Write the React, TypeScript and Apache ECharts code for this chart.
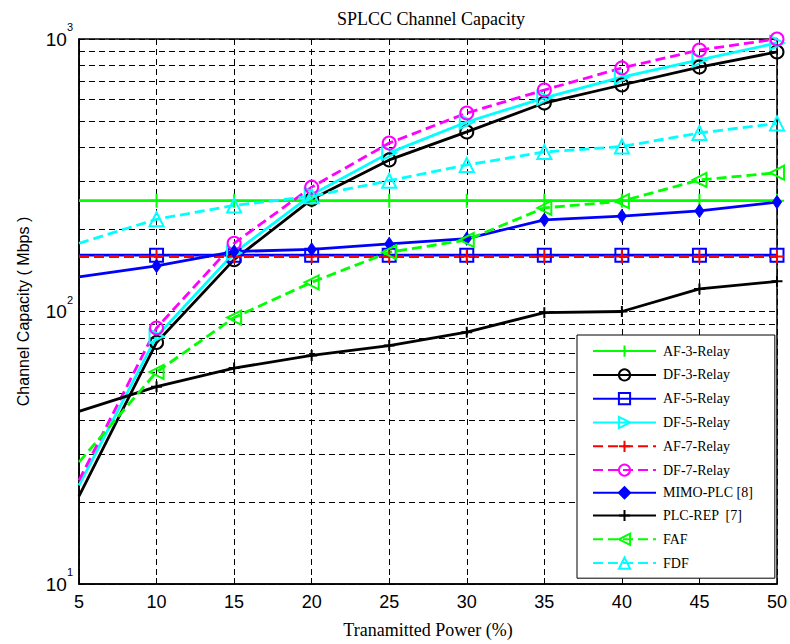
import React, { useEffect, useRef } from "react";
import * as echarts from "echarts";

const xValues = [5, 10, 15, 20, 25, 30, 35, 40, 45, 50];
const xTicks = ["5", "10", "15", "20", "25", "30", "35", "40", "45", "50"];
const af3Relay = [255, 255, 255, 255, 255, 255, 255, 255, 255, 255];
const df3Relay = [21, 77, 155, 258, 360, 456, 582, 678, 789, 896];
const af5Relay = [161, 161, 161, 161, 161, 161, 161, 161, 161, 161];
const df5Relay = [23, 81, 164, 268, 382, 496, 608, 725, 838, 967];
const af7Relay = [159, 159, 159, 159, 159, 159, 159, 159, 159, 159];
const df7Relay = [24, 87, 178, 286, 415, 535, 650, 783, 911, 1000];
const mimoPlc = [134, 147, 166, 169, 177, 185, 217, 224, 234, 252];
const plcRep = [43, 53, 62, 69, 75, 84, 99, 100, 121, 129];
const faf = [28, 60, 95, 128, 165, 183, 240, 254, 304, 323];
const fdf = [178, 218, 245, 265, 302, 345, 385, 403, 452, 490];
const minorGridValues = [20, 30, 40, 50, 60, 70, 80, 90, 200, 300, 400, 500, 600, 700, 800, 900];
const seriesNames = [
  "AF-3-Relay",
  "DF-3-Relay",
  "AF-5-Relay",
  "DF-5-Relay",
  "AF-7-Relay",
  "DF-7-Relay",
  "MIMO-PLC [8]",
  "PLC-REP  [7]",
  "FAF",
  "FDF",
];

const PLUS = "path://M0,5 L10,5 M5,0 L5,10";
const RIGHT_TRI = "path://M0,0 L10,5 L0,10 Z";
const LEFT_TRI = "path://M10,0 L0,5 L10,10 Z";
const UP_TRI = "path://M5,0 L10,10 L0,10 Z";

function mk(
  name: string,
  values: number[],
  color: string,
  dashed: boolean,
  symbol: string,
  symbolSize: number | number[],
  filled: boolean
) {
  return {
    name,
    type: "line",
    clip: false,
    symbol,
    symbolSize,
    showAllSymbol: true,
    data: values.map((v, i) =>
      i === 0 ? { value: [xValues[i], v], symbol: "none" } : [xValues[i], v]
    ),
    lineStyle: { color, width: 2.8, type: dashed ? [10, 5] : "solid" },
    itemStyle: filled
      ? { color, borderColor: color, borderWidth: 1 }
      : { color: "none", borderColor: color, borderWidth: 2 },
    emphasis: { disabled: true },
    z: 3,
  };
}

export default function App() {
  const ref = useRef<HTMLDivElement>(null);
  useEffect(() => {
    if (!ref.current) return;
    const chart = echarts.init(ref.current, null, { renderer: "svg" });
    const axisFont = "Liberation Sans";
    chart.setOption({
      animation: false,
      backgroundColor: "#fff",
      title: {
        text: "SPLCC Channel Capacity",
        left: 426,
        top: 5,
        textAlign: "center",
        textStyle: {
          fontFamily: "Liberation Serif",
          fontSize: 18,
          fontWeight: "normal",
          color: "#000",
        },
      },
      grid: {
        left: 79,
        top: 39,
        width: 698,
        height: 545,
        show: true,
        borderColor: "#000",
        borderWidth: 1.5,
        backgroundColor: "transparent",
      },
      legend: {
        orient: "vertical",
        left: 577,
        top: 335,
        z: 10,
        itemWidth: 63,
        itemHeight: 14,
        itemGap: 7.6,
        padding: [8, 22, 7, 15],
        backgroundColor: "#fff",
        borderColor: "#000",
        borderWidth: 1,
        data: seriesNames,
        textStyle: {
          fontFamily: "Liberation Serif",
          fontSize: 14,
          color: "#000",
          padding: [0, 0, 0, 2],
        },
      },
      xAxis: {
        type: "value",
        min: 5,
        max: 50,
        interval: 5,
        name: "Tranamitted Power (%)",
        nameLocation: "middle",
        nameGap: 37,
        nameTextStyle: { fontFamily: "Liberation Serif", fontSize: 18, color: "#000" },
        axisLine: { lineStyle: { color: "#000", width: 1.5 } },
        axisTick: { inside: true, length: 6, lineStyle: { color: "#000" } },
        axisLabel: {
          margin: 9,
          fontFamily: axisFont,
          fontSize: 18,
          color: "#000",
          formatter: (v: number) => xTicks[xValues.indexOf(v)] ?? String(v),
        },
        splitLine: { show: true, lineStyle: { color: "#000", type: [6, 4], width: 1 } },
      },
      yAxis: {
        type: "log",
        logBase: 10,
        min: 10,
        max: 1000,
        name: "Channel Capacity ( Mbps )",
        nameLocation: "middle",
        nameGap: 48,
        nameTextStyle: { fontFamily: "Liberation Sans", fontSize: 16, color: "#000" },
        axisLine: { lineStyle: { color: "#000", width: 1.5 } },
        axisTick: { inside: true, length: 6, lineStyle: { color: "#000" } },
        axisLabel: {
          margin: 6,
          formatter: (v: number) => `{b|10}{s|${Math.round(Math.log10(v))}}`,
          rich: {
            b: { fontFamily: axisFont, fontSize: 19, color: "#000" },
            s: { fontFamily: axisFont, fontSize: 11, color: "#000", padding: [0, 0, 24, 0] },
          },
        },
        splitLine: { show: true, lineStyle: { color: "#000", type: [6, 4], width: 1 } },
      },
      series: [
        {
          name: "minor-grid",
          type: "line",
          data: [],
          z: 1,
          silent: true,
          markLine: {
            z: 1,
            silent: true,
            symbol: "none",
            label: { show: false },
            emphasis: { disabled: true },
            lineStyle: { color: "#000", type: [6, 4], width: 1 },
            data: minorGridValues.map((v) => ({ yAxis: v })),
          },
        },
        mk(seriesNames[0], af3Relay, "#00ff00", false, PLUS, 14, false),
        mk(seriesNames[1], df3Relay, "#000000", false, "circle", 13, false),
        mk(seriesNames[2], af5Relay, "#0000ff", false, "rect", 13, false),
        mk(seriesNames[3], df5Relay, "#00ffff", false, RIGHT_TRI, 14, false),
        mk(seriesNames[4], af7Relay, "#ff0000", true, PLUS, 14, false),
        mk(seriesNames[5], df7Relay, "#ff00ff", true, "circle", 13, false),
        mk(seriesNames[6], mimoPlc, "#0000ff", false, "diamond", [9, 13], true),
        mk(seriesNames[7], plcRep, "#000000", false, PLUS, 11, false),
        mk(seriesNames[8], faf, "#00ff00", true, LEFT_TRI, 14, false),
        mk(seriesNames[9], fdf, "#00ffff", true, UP_TRI, 14, false),
      ],
    });
    return () => chart.dispose();
  }, []);
  return (
    <div
      ref={ref}
      style={{ position: "fixed", left: 0, top: 0, width: 790, height: 644, background: "#fff" }}
    />
  );
}
